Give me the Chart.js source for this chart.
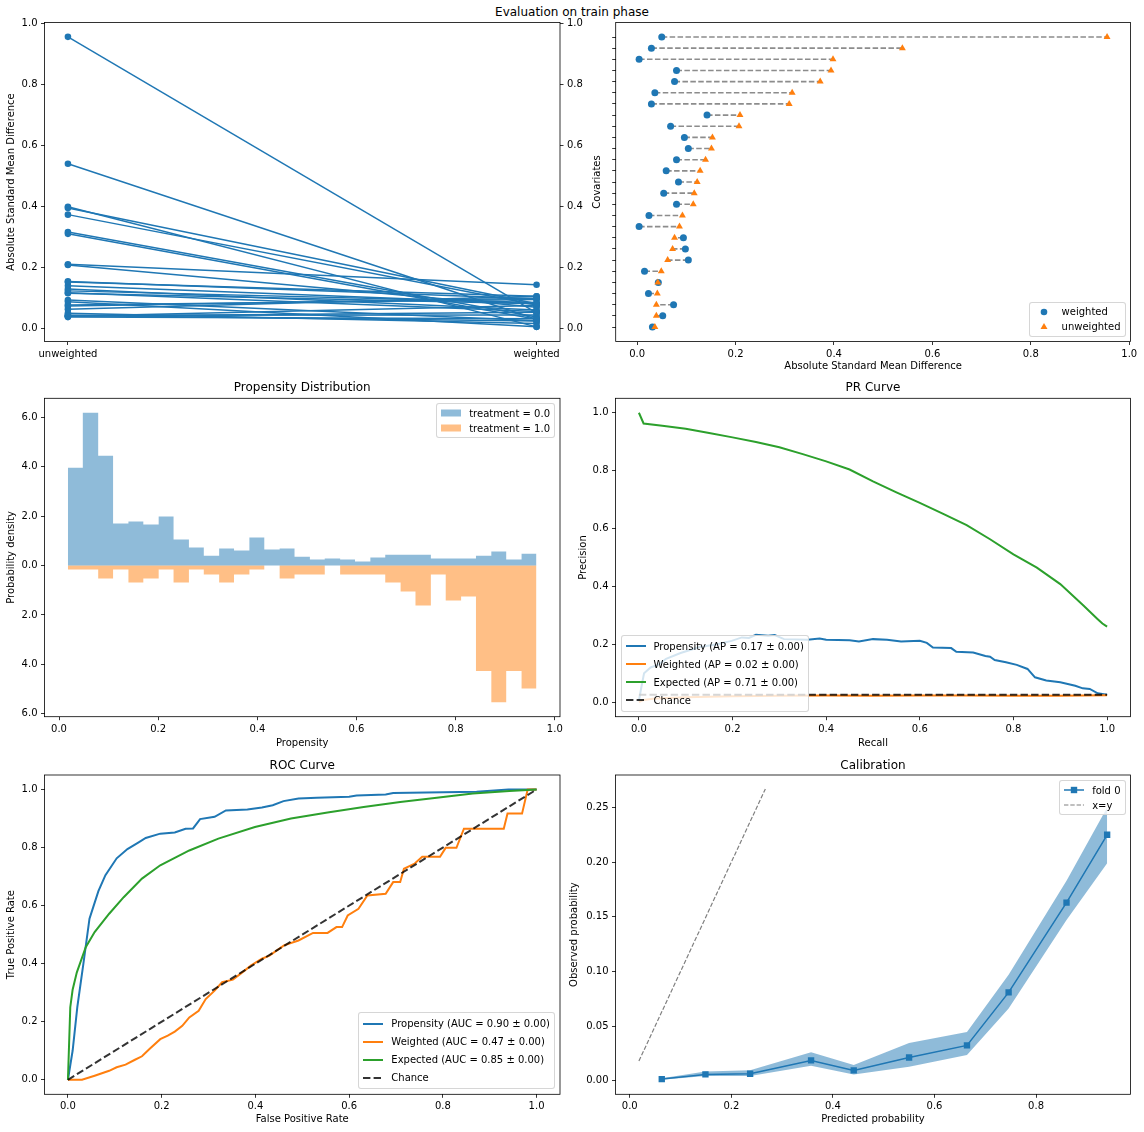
<!DOCTYPE html>
<html>
<head>
<meta charset="utf-8">
<title>Evaluation on train phase</title>
<script src="https://cdn.jsdelivr.net/npm/chart.js"></script>
<style>
  body { margin: 0; background: #fff; }
  #fig { position: relative; width: 1144px; height: 1132px; overflow: hidden; font-family: 'DejaVu Sans', sans-serif; color: #000; }
  #fig canvas { position: absolute; }
  .suptitle { position: absolute; left: 0; top: 5px; width: 1144px; text-align: center; font-size: 12px; line-height: 15px; }
  .legend { position: absolute; background: rgba(255,255,255,0.8); border: 1px solid rgba(204,204,204,0.8); border-radius: 3px; padding: 4px; font-size: 10px; }
  .legend .row { display: flex; align-items: center; white-space: nowrap; }
  .legend .row + .row { margin-top: 5px; }
  .legend svg { flex: none; margin-right: 8px; overflow: visible; }
</style>
</head>
<body>
<div id="fig">
  <div class="suptitle">Evaluation on train phase</div>
</div>
<script>
// ---- covariate balance (rows sorted by unweighted difference) ----
const BALANCE_GROUPS = ['unweighted', 'weighted'];
const ASMD_UNWEIGHTED = [0.955, 0.539, 0.398, 0.394, 0.372, 0.315, 0.309, 0.209, 0.207, 0.153, 0.151, 0.139, 0.128, 0.122, 0.116, 0.114, 0.092, 0.086, 0.076, 0.072, 0.062, 0.049, 0.042, 0.041, 0.039, 0.039, 0.036];
const ASMD_WEIGHTED = [0.050, 0.029, 0.004, 0.080, 0.076, 0.036, 0.029, 0.142, 0.068, 0.096, 0.104, 0.080, 0.059, 0.084, 0.054, 0.080, 0.024, 0.004, 0.094, 0.098, 0.104, 0.015, 0.043, 0.023, 0.074, 0.052, 0.031];

// ---- propensity histogram ----
const HIST_EDGES = [0.018, 0.048, 0.079, 0.109, 0.140, 0.170, 0.201, 0.231, 0.262, 0.292, 0.323, 0.353, 0.384, 0.414, 0.445, 0.475, 0.506, 0.536, 0.567, 0.597, 0.628, 0.658, 0.689, 0.719, 0.750, 0.780, 0.811, 0.841, 0.872, 0.902, 0.933, 0.963];
const DENSITY_T0 = [3.96, 6.18, 4.44, 1.70, 1.78, 1.66, 1.98, 1.05, 0.73, 0.40, 0.69, 0.61, 1.13, 0.65, 0.69, 0.36, 0.24, 0.28, 0.24, 0.16, 0.32, 0.44, 0.44, 0.44, 0.28, 0.28, 0.28, 0.40, 0.57, 0.24, 0.48];
const DENSITY_T1 = [0.16, 0.16, 0.52, 0.16, 0.69, 0.52, 0.16, 0.69, 0.16, 0.36, 0.69, 0.36, 0.16, 0, 0.52, 0.36, 0.36, 0, 0.36, 0.36, 0.36, 0.69, 1.05, 1.62, 0.36, 1.41, 1.25, 4.27, 5.53, 4.27, 4.97];

// ---- PR curve, [recall, precision] ----
const PR_PROPENSITY = [[0, 0.005], [0.005, 0.05], [0.011, 0.10], [0.025, 0.12], [0.042, 0.13], [0.058, 0.15], [0.089, 0.17], [0.128, 0.19], [0.167, 0.20], [0.198, 0.212], [0.22, 0.224], [0.235, 0.222], [0.25, 0.233], [0.276, 0.23], [0.29, 0.232], [0.31, 0.218], [0.36, 0.216], [0.386, 0.22], [0.4, 0.216], [0.45, 0.214], [0.47, 0.21], [0.5, 0.218], [0.53, 0.216], [0.56, 0.21], [0.6, 0.212], [0.615, 0.205], [0.628, 0.189], [0.667, 0.187], [0.678, 0.174], [0.714, 0.172], [0.74, 0.16], [0.75, 0.157], [0.76, 0.146], [0.784, 0.138], [0.807, 0.129], [0.83, 0.115], [0.846, 0.086], [0.87, 0.075], [0.9, 0.069], [0.932, 0.057], [0.948, 0.048], [0.963, 0.046], [0.98, 0.031], [1.0, 0.026]];
const PR_WEIGHTED = [[0, 0.0], [0.01, 0.008], [0.03, 0.012], [0.06, 0.015], [0.1, 0.017], [0.15, 0.019], [0.2, 0.021], [0.3, 0.022], [0.4, 0.023], [0.5, 0.022], [0.6, 0.023], [0.7, 0.023], [0.8, 0.022], [0.9, 0.022], [1.0, 0.024]];
const PR_EXPECTED = [[0, 1.0], [0.01, 0.963], [0.05, 0.955], [0.1, 0.945], [0.15, 0.93], [0.2, 0.915], [0.25, 0.899], [0.3, 0.881], [0.35, 0.857], [0.4, 0.832], [0.45, 0.804], [0.5, 0.763], [0.55, 0.725], [0.6, 0.689], [0.65, 0.651], [0.7, 0.612], [0.75, 0.563], [0.8, 0.511], [0.85, 0.465], [0.9, 0.408], [0.95, 0.333], [0.98, 0.287], [0.99, 0.272], [1.0, 0.261]];
const PR_CHANCE = [[0, 0.026], [1, 0.026]];

// ---- ROC curve, [fpr, tpr] ----
const ROC_PROPENSITY = [[0, 0], [0.005, 0.05], [0.01, 0.1], [0.02, 0.25], [0.033, 0.4], [0.046, 0.555], [0.055, 0.6], [0.065, 0.65], [0.08, 0.705], [0.104, 0.763], [0.127, 0.795], [0.15, 0.817], [0.166, 0.833], [0.197, 0.848], [0.228, 0.852], [0.251, 0.865], [0.267, 0.866], [0.282, 0.898], [0.313, 0.906], [0.337, 0.928], [0.383, 0.931], [0.414, 0.938], [0.437, 0.946], [0.46, 0.96], [0.492, 0.969], [0.531, 0.972], [0.6, 0.975], [0.616, 0.979], [0.678, 0.983], [0.694, 0.988], [0.872, 0.992], [0.94, 1.0], [1.0, 1.0]];
const ROC_WEIGHTED = [[0, 0], [0.03, 0.0], [0.057, 0.014], [0.088, 0.031], [0.104, 0.043], [0.123, 0.052], [0.143, 0.069], [0.158, 0.081], [0.174, 0.106], [0.197, 0.14], [0.213, 0.152], [0.228, 0.166], [0.244, 0.186], [0.259, 0.215], [0.279, 0.238], [0.294, 0.278], [0.313, 0.307], [0.329, 0.336], [0.352, 0.345], [0.368, 0.365], [0.391, 0.394], [0.414, 0.417], [0.43, 0.428], [0.461, 0.463], [0.492, 0.48], [0.523, 0.506], [0.554, 0.506], [0.573, 0.526], [0.585, 0.526], [0.597, 0.566], [0.62, 0.589], [0.639, 0.635], [0.678, 0.641], [0.694, 0.681], [0.709, 0.681], [0.717, 0.727], [0.74, 0.745], [0.756, 0.768], [0.794, 0.768], [0.806, 0.799], [0.829, 0.799], [0.845, 0.865], [0.93, 0.865], [0.938, 0.917], [0.969, 0.917], [0.981, 1.0], [1.0, 1.0]];
const ROC_EXPECTED = [[0, 0], [0.005, 0.25], [0.01, 0.31], [0.019, 0.37], [0.038, 0.457], [0.057, 0.509], [0.088, 0.572], [0.119, 0.629], [0.158, 0.693], [0.197, 0.739], [0.259, 0.79], [0.321, 0.831], [0.399, 0.871], [0.476, 0.9], [0.554, 0.921], [0.631, 0.94], [0.709, 0.957], [0.787, 0.972], [0.864, 0.986], [0.942, 0.995], [1.0, 1.0]];
const ROC_CHANCE = [[0, 0], [1, 1]];

// ---- calibration ----
const CAL_PRED = [0.063, 0.149, 0.237, 0.357, 0.441, 0.550, 0.664, 0.746, 0.860, 0.940];
const CAL_OBS = [0.0015, 0.0058, 0.0064, 0.0186, 0.0095, 0.0213, 0.0323, 0.0808, 0.163, 0.225];
const CAL_HIGH = [0.0022, 0.0085, 0.0095, 0.026, 0.0143, 0.0345, 0.0445, 0.097, 0.183, 0.25];
const CAL_LOW = [0.0009, 0.0043, 0.0043, 0.0137, 0.0058, 0.0128, 0.0235, 0.066, 0.147, 0.199];
const DIAG_X = [0.018, 0.267];
const DIAG_Y = [0.018, 0.267];

// ---- tick labels ----
const TICKS_UNIT = [0, 0.2, 0.4, 0.6, 0.8, 1.0];
const TICKS_GROUP = [0, 1];
const TICKS_DENSITY = [-6, -4, -2, 0, 2, 4, 6];
const TICKS_CAL_X = [0, 0.2, 0.4, 0.6, 0.8];
const TICKS_CAL_Y = [0, 0.05, 0.10, 0.15, 0.20, 0.25];

const C_BLUE = '#1f77b4';
const C_ORANGE = '#ff7f0e';
const C_GREEN = '#2ca02c';

Chart.defaults.font.family = "'DejaVu Sans', sans-serif";
Chart.defaults.font.size = 10;
Chart.defaults.color = '#000';

const FIG_W = 1144, FIG_H = 1132;
const fig = document.getElementById('fig');

// plot rectangles in page pixels, canvas boxes around them
const P = {
  bal:  { cx: 0,   cy: 0,   cw: 600, ch: 375, L: 44.5,  T: 22.5,  R: 560,    B: 341.5 },
  love: { cx: 580, cy: 0,   cw: 564, ch: 380, L: 615.7, T: 22.5,  R: 1130.5, B: 341.5 },
  hist: { cx: 0,   cy: 375, cw: 580, ch: 380, L: 44.5,  T: 398.3, R: 560,    B: 716.7 },
  pr:   { cx: 570, cy: 375, cw: 574, ch: 380, L: 615.5, T: 398.3, R: 1130.5, B: 716.7 },
  roc:  { cx: 0,   cy: 755, cw: 580, ch: 377, L: 44.5,  T: 775,   R: 560,    B: 1094.3 },
  cal:  { cx: 565, cy: 755, cw: 579, ch: 377, L: 615.5, T: 775,   R: 1130.5, B: 1094.3 }
};

// matplotlib-like box around the axes
const frame = {
  id: 'frame',
  afterDatasetsDraw(chart) {
    const a = chart.chartArea, ctx = chart.ctx;
    ctx.save();
    ctx.strokeStyle = '#000';
    ctx.lineWidth = 0.8;
    ctx.strokeRect(a.left, a.top, a.right - a.left, a.bottom - a.top);
    ctx.restore();
  }
};

const fmt = d => v => Number(v).toFixed(d);
const xy = arr => arr.map(([x, y]) => ({ x, y }));
const zip = (xs, ys) => xs.map((x, i) => ({ x, y: ys[i] }));

function axis(o) {
  const horiz = o.pos === 'bottom';
  const a = {
    type: 'linear', position: o.pos, min: o.min, max: o.max, reverse: !!o.reverse,
    border: { display: false },
    grid: { drawOnChartArea: false, drawTicks: true, tickLength: 3.5, tickWidth: 0.8, tickColor: '#000' },
    ticks: { padding: horiz ? 3 : 3.5, autoSkip: false, maxRotation: 0, minRotation: 0, color: '#000', callback: o.fmt },
    afterBuildTicks: s => { s.ticks = o.ticks.map(v => ({ value: v })); },
    afterFit: s => {
      if (horiz) s.height = o.size; else s.width = o.size;
      s.paddingLeft = s.paddingRight = s.paddingTop = s.paddingBottom = 0;
    },
    title: { display: false }
  };
  if (o.title) {
    a.title = {
      display: true, text: o.title, color: '#000', font: { size: 10 },
      padding: horiz ? { top: 0, bottom: o.titlePad } : { top: o.titlePad, bottom: 0 }
    };
  }
  return a;
}

function makeChart(p, spec) {
  const cv = document.createElement('canvas');
  cv.width = p.cw;
  cv.height = p.ch;
  cv.style.left = p.cx + 'px';
  cv.style.top = p.cy + 'px';
  fig.appendChild(cv);

  const rightAxis = spec.y2 ? p.cx + p.cw - p.R : 0;
  const scales = {
    x: axis(Object.assign({ pos: 'bottom', size: p.cy + p.ch - p.B, titlePad: p.cy + p.ch - (spec.xTitleY || 0) - 6 }, spec.x)),
    y: axis(Object.assign({ pos: 'left', size: p.L - p.cx, titlePad: (spec.yTitleX || 0) - p.cx - 6 }, spec.y))
  };
  if (spec.y2) scales.y2 = axis(Object.assign({ pos: 'right', size: rightAxis }, spec.y2));

  let title = { display: false };
  let padTop = p.T - p.cy;
  if (spec.title) {
    const pt = spec.titleY - p.cy - 7.2;
    title = {
      display: true, text: spec.title, fullSize: false, color: '#000',
      font: { size: 12, weight: 'normal' },
      padding: { top: pt, bottom: p.T - p.cy - 14.4 - pt }
    };
    padTop = 0;
  }

  return new Chart(cv, {
    type: 'line',
    data: { datasets: spec.datasets },
    options: {
      responsive: false,
      animation: false,
      events: [],
      layout: { padding: { left: 0, top: padTop, right: p.cx + p.cw - p.R - rightAxis, bottom: 0 } },
      plugins: { legend: { display: false }, tooltip: { enabled: false }, title: title },
      scales: scales
    },
    plugins: [frame]
  });
}

function line(label, data, color, extra) {
  return Object.assign({
    label: label, data: data, borderColor: color, backgroundColor: color,
    borderWidth: 2, pointRadius: 0, fill: false, tension: 0
  }, extra || {});
}

// legend drawn as html box in the matplotlib style
function swatch(ds, handle) {
  const c = handle === 'patch' ? ds.backgroundColor : ds.borderColor;
  const dash = ds.borderDash ? ` stroke-dasharray="${ds.borderDash.join(' ')}"` : '';
  let s = '';
  if (handle === 'patch') s += `<rect x="0" y="2.5" width="20" height="7" fill="${c}"/>`;
  if (handle === 'line' || handle === 'rect') s += `<line x1="0" y1="6" x2="20" y2="6" stroke="${c}" stroke-width="${ds.borderWidth}"${dash}/>`;
  if (handle === 'rect') s += `<rect x="6.8" y="2.8" width="6.4" height="6.4" fill="${c}"/>`;
  if (handle === 'circle') s += `<circle cx="10" cy="6" r="3.3" fill="${c}"/>`;
  if (handle === 'triangle') s += `<polygon points="10,2 13.5,8 6.5,8" fill="${c}"/>`;
  return `<svg width="20" height="12" viewBox="0 0 20 12">${s}</svg>`;
}

function legend(chart, p, loc, rowH, entries) {
  const div = document.createElement('div');
  div.className = 'legend';
  div.innerHTML = entries.map(([i, handle]) => {
    const ds = chart.data.datasets[i];
    return `<div class="row" style="height:${rowH}px">${swatch(ds, handle)}<span>${ds.label}</span></div>`;
  }).join('');
  if (loc.indexOf('right') >= 0) div.style.right = (FIG_W - (p.R - 5)) + 'px';
  else div.style.left = (p.L + 5) + 'px';
  if (loc.indexOf('lower') >= 0) div.style.bottom = (FIG_H - (p.B - 5)) + 'px';
  else div.style.top = (p.T + 5) + 'px';
  fig.appendChild(div);
}

// ---- top left: unweighted vs weighted per covariate ----
makeChart(P.bal, {
  yTitleX: 11,
  x: { min: -0.05, max: 1.05, ticks: TICKS_GROUP, fmt: v => BALANCE_GROUPS[v] },
  y: { min: -0.044, max: 1.002, ticks: TICKS_UNIT, fmt: fmt(1), title: 'Absolute Standard Mean Difference' },
  y2: { min: -0.044, max: 1.002, ticks: TICKS_UNIT, fmt: fmt(1) },
  datasets: ASMD_UNWEIGHTED.map((u, i) => line('covariate ' + i,
    [{ x: 0, y: u }, { x: 1, y: ASMD_WEIGHTED[i] }], C_BLUE,
    { borderWidth: 1.5, pointRadius: 3.3, pointBorderWidth: 0 }))
});

// ---- top right: love plot ----
const rows = ASMD_UNWEIGHTED.map((_, i) => i);
const love = makeChart(P.love, {
  yTitleX: 597.5, xTitleY: 366,
  x: { min: -0.0436, max: 1.0026, ticks: TICKS_UNIT, fmt: fmt(1), title: 'Absolute Standard Mean Difference' },
  y: { min: -1.3, max: 27.3, reverse: true, ticks: rows, fmt: () => '', title: 'Covariates' },
  datasets: [
    line('weighted', zip(ASMD_WEIGHTED, rows), C_BLUE, { showLine: false, pointRadius: 3.5, pointStyle: 'circle', pointBorderWidth: 0, order: 1 }),
    line('unweighted', zip(ASMD_UNWEIGHTED, rows), C_ORANGE, { showLine: false, pointRadius: 4, pointStyle: 'triangle', pointBorderWidth: 0, order: 0 })
  ].concat(rows.map(i => line('', [{ x: ASMD_WEIGHTED[i], y: i }, { x: ASMD_UNWEIGHTED[i], y: i }], '#8c8c8c',
    { borderWidth: 1.6, borderDash: [5.5, 2.4], order: 2 })))
});
legend(love, P.love, 'lower right', 10, [[0, 'circle'], [1, 'triangle']]);

// ---- middle left: mirrored propensity histogram ----
const stepPts = (vals, sign) => HIST_EDGES.map((e, i) => ({ x: e, y: sign * vals[Math.min(i, vals.length - 1)] }));
const hist = makeChart(P.hist, {
  title: 'Propensity Distribution', titleY: 388.3,
  yTitleX: 11, xTitleY: 743.3,
  x: { min: -0.0293, max: 1.0105, ticks: TICKS_UNIT, fmt: fmt(1), title: 'Propensity' },
  y: { min: -6.1155, max: 6.7655, ticks: TICKS_DENSITY, fmt: v => Math.abs(v).toFixed(1), title: 'Probability density' },
  datasets: [
    line('treatment = 0.0', stepPts(DENSITY_T0, 1), 'rgba(0,0,0,0)',
      { stepped: 'before', fill: 'origin', borderWidth: 0, backgroundColor: 'rgba(31,119,180,0.5)' }),
    line('treatment = 1.0', stepPts(DENSITY_T1, -1), 'rgba(0,0,0,0)',
      { stepped: 'before', fill: 'origin', borderWidth: 0, backgroundColor: 'rgba(255,127,14,0.5)' })
  ]
});
legend(hist, P.hist, 'upper right', 10, [[0, 'patch'], [1, 'patch']]);

// ---- middle right: PR curve ----
const pr = makeChart(P.pr, {
  title: 'PR Curve', titleY: 388.3,
  yTitleX: 583, xTitleY: 743.3,
  x: { min: -0.05, max: 1.05, ticks: TICKS_UNIT, fmt: fmt(1), title: 'Recall' },
  y: { min: -0.05, max: 1.05, ticks: TICKS_UNIT, fmt: fmt(1), title: 'Precision' },
  datasets: [
    line('Propensity (AP = 0.17 \u00b1 0.00)', xy(PR_PROPENSITY), C_BLUE, { order: 4 }),
    line('Weighted (AP = 0.02 \u00b1 0.00)', xy(PR_WEIGHTED), C_ORANGE, { order: 3 }),
    line('Expected (AP = 0.71 \u00b1 0.00)', xy(PR_EXPECTED), C_GREEN, { order: 2 }),
    line('Chance', xy(PR_CHANCE), 'rgba(0,0,0,0.8)', { borderDash: [7.4, 3.2], order: 1 })
  ]
});
legend(pr, P.pr, 'lower left', 13, [[0, 'line'], [1, 'line'], [2, 'line'], [3, 'line']]);

// ---- bottom left: ROC curve ----
const roc = makeChart(P.roc, {
  title: 'ROC Curve', titleY: 765.7,
  yTitleX: 11, xTitleY: 1119,
  x: { min: -0.05, max: 1.05, ticks: TICKS_UNIT, fmt: fmt(1), title: 'False Positive Rate' },
  y: { min: -0.05, max: 1.05, ticks: TICKS_UNIT, fmt: fmt(1), title: 'True Positive Rate' },
  datasets: [
    line('Propensity (AUC = 0.90 \u00b1 0.00)', xy(ROC_PROPENSITY), C_BLUE, { order: 4 }),
    line('Weighted (AUC = 0.47 \u00b1 0.00)', xy(ROC_WEIGHTED), C_ORANGE, { order: 3 }),
    line('Expected (AUC = 0.85 \u00b1 0.00)', xy(ROC_EXPECTED), C_GREEN, { order: 2 }),
    line('Chance', xy(ROC_CHANCE), 'rgba(0,0,0,0.8)', { borderDash: [7.4, 3.2], order: 1 })
  ]
});
legend(roc, P.roc, 'lower right', 13, [[0, 'line'], [1, 'line'], [2, 'line'], [3, 'line']]);

// ---- bottom right: calibration ----
const cal = makeChart(P.cal, {
  title: 'Calibration', titleY: 765.7,
  yTitleX: 574.4, xTitleY: 1119,
  x: { min: -0.0281, max: 0.986, ticks: TICKS_CAL_X, fmt: fmt(1), title: 'Predicted probability' },
  y: { min: -0.0124, max: 0.2797, ticks: TICKS_CAL_Y, fmt: fmt(2), title: 'Observed probability' },
  datasets: [
    line('fold 0', zip(CAL_PRED, CAL_OBS), C_BLUE, { borderWidth: 1.5, pointRadius: 4.5, pointStyle: 'rect', pointBorderWidth: 0, order: 0 }),
    line('x=y', zip(DIAG_X, DIAG_Y), '#808080', { borderWidth: 1.2, borderDash: [4.4, 1.9], order: 1 }),
    line('band high', zip(CAL_PRED, CAL_HIGH), 'rgba(31,119,180,0.5)', { borderWidth: 0, fill: '+1', order: 2 }),
    line('band low', zip(CAL_PRED, CAL_LOW), 'rgba(31,119,180,0.5)', { borderWidth: 0, order: 3 })
  ]
});
legend(cal, P.cal, 'upper right', 10, [[0, 'rect'], [1, 'line']]);
</script>
</body>
</html>
